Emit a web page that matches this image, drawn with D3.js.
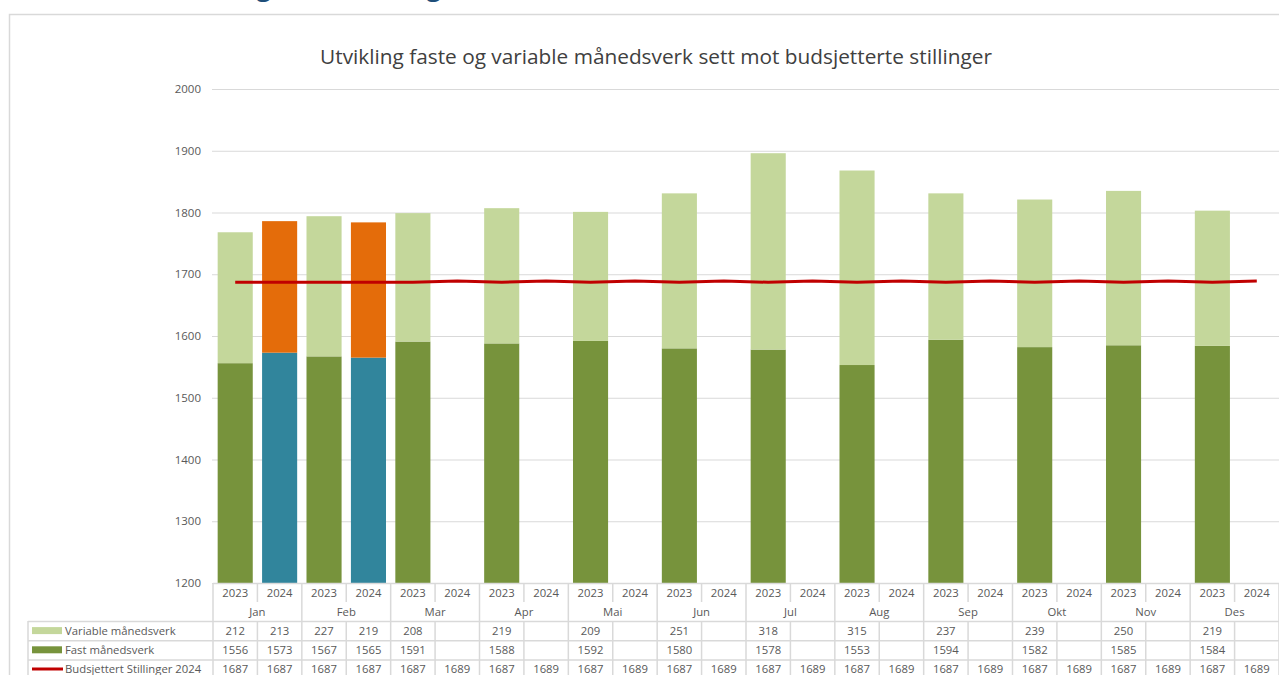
<!DOCTYPE html>
<html lang="no">
<head>
<meta charset="utf-8">
<script src="https://cdn.jsdelivr.net/npm/d3@7"></script>
<style>
  html, body { margin: 0; padding: 0; background: #fff; }
  svg { display: block; font-family: "Open Sans", "Noto Sans", sans-serif; }
</style>
</head>
<body>
<svg id="chart" width="1279" height="675"></svg>
<script>
// Months and years shown on the category axis
const months = ["Jan", "Feb", "Mar", "Apr", "Mai", "Jun", "Jul", "Aug", "Sep", "Okt", "Nov", "Des"];
const years = ["2023", "2024"];

// Fixed and variable man-months (månedsverk)
const fast2023 = [1556, 1567, 1591, 1588, 1592, 1580, 1578, 1553, 1594, 1582, 1585, 1584];
const var2023  = [212, 227, 208, 219, 209, 251, 318, 315, 237, 239, 250, 219];
const fast2024 = [1573, 1565, null, null, null, null, null, null, null, null, null, null];
const var2024  = [213, 219, null, null, null, null, null, null, null, null, null, null];

// Budgeted positions 2024
const budget2023 = [1687, 1687, 1687, 1687, 1687, 1687, 1687, 1687, 1687, 1687, 1687, 1687];
const budget2024 = [1687, 1687, 1689, 1689, 1689, 1689, 1689, 1689, 1689, 1689, 1689, 1689];

// Y axis ticks
const yTicks = [1200, 1300, 1400, 1500, 1600, 1700, 1800, 1900, 2000];

const seriesNames = ["Variable månedsverk", "Fast månedsverk", "Budsjettert Stillinger 2024"];
const chartTitle = "Utvikling faste og variable månedsverk sett mot budsjetterte stillinger";

const colors = {
  variable2023: "#C4D79B",
  fast2023: "#77933C",
  variable2024: "#E46C0A",
  fast2024: "#31859C",
  budget: "#C00000",
  grid: "#D9D9D9",
  text: "#595959",
  title: "#404040"
};

const svg = d3.select("#chart");

// Page heading, mostly scrolled above the visible area
svg.append("text")
  .attr("fill", "#1F4E79")
  .attr("font-size", 26).attr("font-weight", 600)
  .attr("text-anchor", "end")
  .attr("y", -4)
  .call(t => {
    t.append("tspan").attr("x", 271).text("Utvikling");
    t.append("tspan").attr("x", 441).text("bemanning");
  });

// Chart frame
svg.append("path")
  .attr("d", "M9.5,700 V14.5 H1290")
  .attr("fill", "none").attr("stroke", colors.grid).attr("stroke-width", 1.5);

// Title
svg.append("text")
  .attr("x", 656).attr("y", 64)
  .attr("text-anchor", "middle")
  .attr("font-size", 20.8)
  .attr("fill", colors.title)
  .text(chartTitle);

// Scales
const x = d3.scaleBand().domain(months).range([213, 1279]);
const xi = d3.scaleBand().domain(years).range([0, x.bandwidth()]).paddingInner(0.21).paddingOuter(0.105);
const y = d3.scaleLinear().domain([1200, 2000]).range([583, 89]);

// Gridlines and y labels
const yAxis = d3.axisLeft(y).tickValues(yTicks).tickSize(-(1279 - 212)).tickPadding(11).tickFormat(d3.format("d"));
const yg = svg.append("g").attr("transform", "translate(212,0)").call(yAxis);
yg.select(".domain").remove();
yg.selectAll(".tick line").attr("stroke", colors.grid).attr("stroke-width", 1.2);
yg.selectAll(".tick text").attr("fill", colors.text).attr("font-size", 11.5)
  .attr("font-family", "Open Sans, sans-serif");

// Stacked bars
const barData = [];
months.forEach((m, i) => {
  barData.push({ month: m, year: "2023", fast: fast2023[i], variable: var2023[i] });
  if (fast2024[i] != null) barData.push({ month: m, year: "2024", fast: fast2024[i], variable: var2024[i] });
});

const bars = svg.append("g");
barData.forEach(d => {
  const bx = x(d.month) + xi(d.year);
  const bw = xi.bandwidth();
  bars.append("rect")
    .attr("x", bx).attr("width", bw)
    .attr("y", y(d.fast)).attr("height", y(1200) - y(d.fast))
    .attr("fill", d.year === "2023" ? colors.fast2023 : colors.fast2024);
  bars.append("rect")
    .attr("x", bx).attr("width", bw)
    .attr("y", y(d.fast + d.variable)).attr("height", y(d.fast) - y(d.fast + d.variable))
    .attr("fill", d.year === "2023" ? colors.variable2023 : colors.variable2024);
});

// Budget line
const budgetPoints = [];
months.forEach((m, i) => {
  budgetPoints.push({ cx: x(m) + xi("2023") + xi.bandwidth() / 2, v: budget2023[i] });
  budgetPoints.push({ cx: x(m) + xi("2024") + xi.bandwidth() / 2, v: budget2024[i] });
});
svg.append("path")
  .datum(budgetPoints)
  .attr("fill", "none")
  .attr("stroke", colors.budget)
  .attr("stroke-width", 3)
  .attr("stroke-linejoin", "round")
  .attr("d", d3.line().x(d => d.cx).y(d => y(d.v)));

// Data table below the plot
const table = svg.append("g").attr("font-family", "Open Sans, sans-serif").attr("font-size", 11.3).attr("fill", colors.text);
const gridColor = colors.grid;
const rowTop = 621, rowH = 19.2;
const tableLeft = 28, plotLeft = 213, plotRight = 1279;

// Category axis line
table.append("line").attr("x1", plotLeft).attr("x2", plotRight + 10).attr("y1", 583.5).attr("y2", 583.5)
  .attr("stroke", gridColor).attr("stroke-width", 1.5);
table.append("line").attr("x1", plotLeft).attr("x2", plotLeft).attr("y1", 583).attr("y2", 700)
  .attr("stroke", gridColor).attr("stroke-width", 1.5);

// Month separators, year separators and labels
months.forEach(m => {
  const x0 = x(m);
  table.append("line").attr("x1", x0 + x.bandwidth()).attr("x2", x0 + x.bandwidth())
    .attr("y1", 583).attr("y2", 700).attr("stroke", gridColor).attr("stroke-width", 1.5);
  table.append("line").attr("x1", x0 + x.bandwidth() / 2).attr("x2", x0 + x.bandwidth() / 2)
    .attr("y1", 583).attr("y2", 602).attr("stroke", gridColor).attr("stroke-width", 1.5);
  table.append("line").attr("x1", x0 + x.bandwidth() / 2).attr("x2", x0 + x.bandwidth() / 2)
    .attr("y1", rowTop).attr("y2", 700).attr("stroke", gridColor).attr("stroke-width", 1.5);
  years.forEach(yr => {
    table.append("text")
      .attr("x", x0 + xi(yr) + xi.bandwidth() / 2).attr("y", 597)
      .attr("text-anchor", "middle").text(yr);
  });
  table.append("text")
    .attr("x", x0 + x.bandwidth() / 2).attr("y", 616)
    .attr("text-anchor", "middle").text(m);
});

// Row lines
[0, 1, 2].forEach(r => {
  table.append("line").attr("x1", tableLeft).attr("x2", plotRight + 10)
    .attr("y1", rowTop + r * rowH + 0.5).attr("y2", rowTop + r * rowH + 0.5)
    .attr("stroke", gridColor).attr("stroke-width", 1.5);
});
table.append("line").attr("x1", tableLeft).attr("x2", tableLeft).attr("y1", rowTop).attr("y2", 700)
  .attr("stroke", gridColor).attr("stroke-width", 1.5);

// Rows with legend keys and values
const rowsSpec = [
  { name: seriesNames[0], a: var2023, b: var2024 },
  { name: seriesNames[1], a: fast2023, b: fast2024 },
  { name: seriesNames[2], a: budget2023, b: budget2024 }
];
rowsSpec.forEach((r, ri) => {
  const cy = rowTop + ri * rowH + rowH / 2;
  if (ri === 0) table.append("rect").attr("x", 32).attr("y", cy - 3.5).attr("width", 30).attr("height", 7).attr("fill", colors.variable2023);
  if (ri === 1) table.append("rect").attr("x", 32).attr("y", cy - 3.5).attr("width", 30).attr("height", 7).attr("fill", colors.fast2023);
  if (ri === 2) table.append("line").attr("x1", 32).attr("x2", 63).attr("y1", cy).attr("y2", cy).attr("stroke", colors.budget).attr("stroke-width", 3);
  table.append("text").attr("x", 65).attr("y", cy + 4).text(r.name);
  months.forEach((m, i) => {
    if (r.a[i] != null) table.append("text").attr("x", x(m) + xi("2023") + xi.bandwidth() / 2).attr("y", cy + 4)
      .attr("text-anchor", "middle").text(r.a[i]);
    if (r.b[i] != null) table.append("text").attr("x", x(m) + xi("2024") + xi.bandwidth() / 2).attr("y", cy + 4)
      .attr("text-anchor", "middle").text(r.b[i]);
  });
});
</script>
</body>
</html>
